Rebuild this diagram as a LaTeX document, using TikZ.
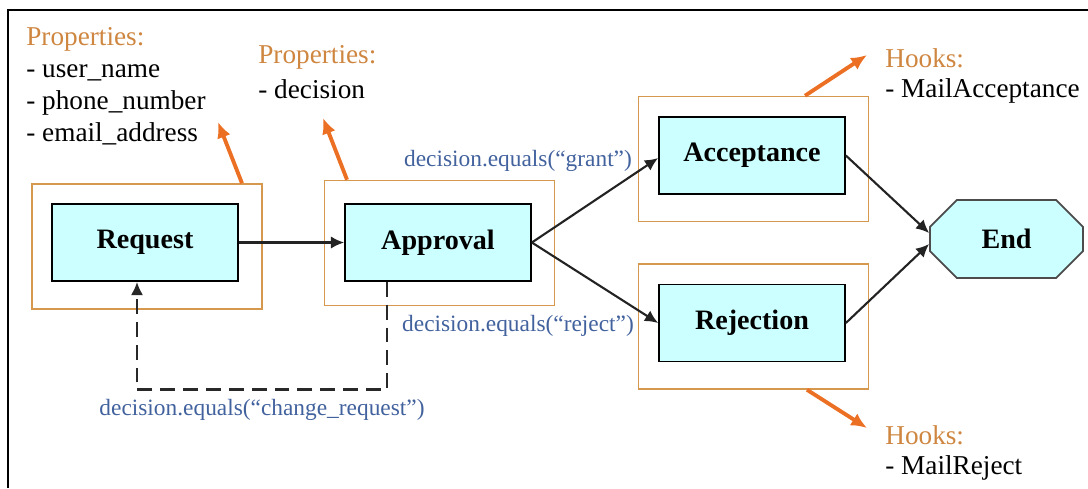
\documentclass[tikz,border=0pt]{standalone}
\usepackage{fontspec}
\setmainfont{Liberation Serif}
\usetikzlibrary{arrows.meta,shapes.misc}
\definecolor{boxorange}{RGB}{214,152,78}
\definecolor{hookorange}{RGB}{236,112,36}
\definecolor{proptext}{RGB}{206,134,64}
\definecolor{condblue}{RGB}{66,98,158}
\definecolor{stepfill}{RGB}{204,255,255}
\definecolor{dashgray}{RGB}{40,40,40}
\definecolor{flowgray}{RGB}{35,35,35}
\begin{document}
\begin{tikzpicture}[x=0.02cm,y=-0.02cm,
  frame/.style={draw=boxorange,line width=0.9pt,inner sep=0,minimum width=4.6cm,minimum height=2.5cm},
  stepbox/.style={draw=black,line width=1pt,fill=stepfill,inner sep=0,
    minimum width=3.72cm,minimum height=1.54cm,font=\fontsize{16}{19}\selectfont\bfseries},
  flow/.style={draw=flowgray,line width=1.2pt,-{Latex[length=7.5pt,width=7pt]}},
  hook/.style={draw=hookorange,line width=2.2pt,-{Latex[length=9pt,width=8pt]}},
  back/.style={draw=dashgray,line width=1.6pt,dash pattern=on 8.5pt off 4.5pt,-{Latex[length=7.5pt,width=7pt]}},
  cond/.style={text=condblue,font=\fontsize{13.3}{16}\selectfont,inner sep=0},
  note/.style={align=left,inner sep=0,anchor=north west},
  ]
\useasboundingbox (0,0) rectangle (1088,488);
% outer frame
\draw[line width=1.2pt] (8,488) -- (8,10) -- (1088,10);

% orange frames around the steps
\node[frame] (reqframe) at (147,246.5) {};
\node[frame] (appframe) at (439.5,243) {};
\node[frame] (accframe) at (753.5,159) {};
\node[frame] (rejframe) at (753.5,326.5) {};

% steps
\node[stepbox] (request) at (145,242.5) {Request};
\node[stepbox] (approval) at (438,242.5) {Approval};
\node[stepbox] (acceptance) at (752,155.5) {Acceptance};
\node[stepbox] (rejection) at (752,323) {Rejection};
\node[draw=black!70,line width=1pt,fill=stepfill,shape=chamfered rectangle,
  chamfered rectangle xsep=0.34cm,chamfered rectangle ysep=0.34cm,inner sep=0,
  minimum width=3.06cm,minimum height=1.56cm,font=\fontsize{16}{19}\selectfont\bfseries]
  (End) at (1006.5,239) {End};

% transitions
\draw[flow] (request.east) -- (approval.west);
\draw[flow] (approval.east) -- ([yshift=-0.05cm]acceptance.west);
\draw[flow] (approval.east) -- (rejection.west);
\draw[flow] (acceptance.east) -- ([yshift=0.12cm]End.west);
\draw[flow] (rejection.east) -- ([yshift=-0.1cm]End.west);
\draw[back] ([xshift=-1.02cm]approval.south) -- ++(0,108) -| ([xshift=-0.16cm]request.south);

% conditions
\node[cond] (grantcond) at (518,161) {decision.equals(“grant”)};
\node[cond] (rejectcond) at (518,326) {decision.equals(“reject”)};
\node[cond] (changecond) at (262,410) {decision.equals(“change\_request”)};

% properties and hooks
\node[note,font=\fontsize{15.5}{18.2}\selectfont] (reqprops) at (26,27)
  {\textcolor{proptext}{Properties:}\\- user\_name\\- phone\_number\\- email\_address};
\node[note,font=\fontsize{15.5}{19.9}\selectfont] (appprops) at (258,45)
  {\textcolor{proptext}{Properties:}\\- decision};
\node[note,font=\fontsize{15.5}{17.1}\selectfont] (acchooks) at (885,48)
  {\textcolor{proptext}{Hooks:}\\- MailAcceptance};
\node[note,font=\fontsize{15.5}{17.1}\selectfont] (rejhooks) at (885,425)
  {\textcolor{proptext}{Hooks:}\\- MailReject};

\coordinate (reqtip) at (218,122);
\coordinate (apptip) at (323,118);
\coordinate (acctip) at (867,55);
\coordinate (rejtip) at (867,428);
\draw[hook] ([xshift=1.9cm]reqframe.north) -- (reqtip);
\draw[hook] ([xshift=-1.85cm]appframe.north) -- (apptip);
\draw[hook] ([xshift=1.03cm]accframe.north) -- (acctip);
\draw[hook] ([xshift=1.07cm]rejframe.south) -- (rejtip);
\end{tikzpicture}
\end{document}
